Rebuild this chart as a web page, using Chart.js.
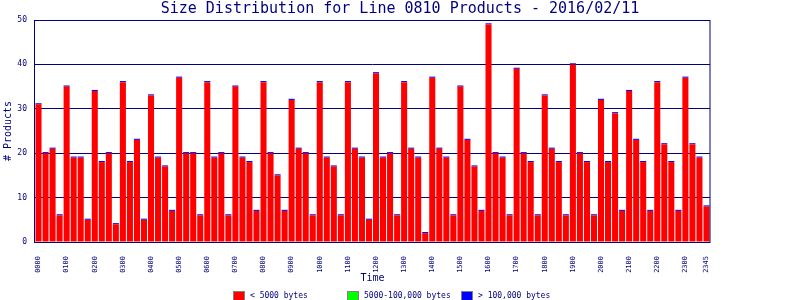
<!DOCTYPE html>
<html>
<head>
<meta charset="utf-8">
<script src="https://cdn.jsdelivr.net/npm/chart.js@4"></script>
<style>
  body { margin: 0; background: #fff; }
  #wrap { width: 800px; height: 300px; }
</style>
</head>
<body>
<div id="wrap"><canvas id="chart" width="800" height="300"></canvas></div>
<script>
// 15 minute slots, 0000 .. 2345
const times = [
  "0000","0015","0030","0045","0100","0115","0130","0145","0200","0215","0230","0245",
  "0300","0315","0330","0345","0400","0415","0430","0445","0500","0515","0530","0545",
  "0600","0615","0630","0645","0700","0715","0730","0745","0800","0815","0830","0845",
  "0900","0915","0930","0945","1000","1015","1030","1045","1100","1115","1130","1145",
  "1200","1215","1230","1245","1300","1315","1330","1345","1400","1415","1430","1445",
  "1500","1515","1530","1545","1600","1615","1630","1645","1700","1715","1730","1745",
  "1800","1815","1830","1845","1900","1915","1930","1945","2000","2015","2030","2045",
  "2100","2115","2130","2145","2200","2215","2230","2245","2300","2315","2330","2345"
];
const tickLabels = ["0000","0100","0200","0300","0400","0500","0600","0700","0800","0900",
  "1000","1100","1200","1300","1400","1500","1600","1700","1800","1900","2000","2100",
  "2200","2300","2345"];

const small = [
  31,20,21,6, 35,19,19,5, 34,18,20,4, 36,18,23,5, 33,19,17,7, 37,20,20,6,
  36,19,20,6, 35,19,18,7, 36,20,15,7, 32,21,20,6, 36,19,17,6, 36,21,19,5,
  38,19,20,6, 36,21,19,2, 37,21,19,6, 35,23,17,7, 49,20,19,6, 39,20,18,6,
  33,21,18,6, 40,20,18,6, 32,18,29,7, 34,23,18,7, 36,22,18,7, 37,22,19,8
];
const medium = [
  0,0,0,0, 0,0,0,0, 0,0,0,0, 0,0,0,0, 0,0,0,0, 0,0,0,0,
  0,0,0,0, 0,0,0,0, 0,0,0,0, 0,0,0,0, 0,0,0,0, 0,0,0,0,
  0,0,0,0, 0,0,0,0, 0,0,0,0, 0,0,0,0, 0,0,0,0, 0,0,0,0,
  0,0,0,0, 0,0,0,0, 0,0,0,0, 0,0,0,0, 0,0,0,0, 0,0,0,0
];
const large = [
  .25,.25,.25,.25, .25,.25,.25,.25, .25,.25,.25,.25, .25,.25,.25,.25, .25,.25,.25,.25, .25,.25,.25,.25,
  .25,.25,.25,.25, .25,.25,.25,.25, .25,.25,.25,.25, .25,.25,.25,.25, .25,.25,.25,.25, .25,.25,.25,.25,
  .25,.25,.25,.25, .25,.25,.25,.25, .25,.25,.25,.25, .25,.25,.25,.25, .25,.25,.25,.25, .25,.25,.25,.25,
  .25,.25,.25,.25, .25,.25,.25,.25, .25,.25,.25,.25, .25,.25,.25,.25, .25,.25,.25,.25, .25,.25,.25,.25
];

const navy = "#000080";
const mono = "'DejaVu Sans Mono', monospace";

// fixed-slot legend under the chart, like the original image
const bottomLegend = {
  id: "bottomLegend",
  afterDraw(chart) {
    const ctx = chart.ctx;
    const slots = [233, 347, 461];
    ctx.save();
    ctx.font = "8px " + mono;
    ctx.textBaseline = "middle";
    chart.data.datasets.forEach((ds, i) => {
      const x = slots[i];
      ctx.fillStyle = ds.backgroundColor;
      ctx.fillRect(x, 291, 12, 9);
      ctx.strokeStyle = "#808080";
      ctx.lineWidth = 1;
      ctx.strokeRect(x + 0.5, 291.5, 11, 9);
      ctx.fillStyle = navy;
      ctx.fillText(ds.label, x + 17, 295.5);
    });
    ctx.restore();
  }
};

const frame = {
  id: "frame",
  afterDraw(chart) {
    const a = chart.chartArea;
    const ctx = chart.ctx;
    ctx.save();
    ctx.strokeStyle = navy;
    ctx.lineWidth = 1;
    ctx.strokeRect(Math.round(a.left) - 0.5, Math.round(a.top) + 0.5,
      Math.round(a.right - a.left) + 0.5, Math.round(a.bottom - a.top));
    ctx.restore();
  }
};

new Chart(document.getElementById("chart"), {
  type: "bar",
  data: {
    labels: times,
    datasets: [
      { label: "< 5000 bytes", data: small, backgroundColor: "#ff0000" },
      { label: "5000-100,000 bytes", data: medium, backgroundColor: "#00ff00" },
      { label: "> 100,000 bytes", data: large, backgroundColor: "#0000ff" }
    ]
  },
  options: {
    responsive: false,
    animation: false,
    layout: { padding: 0 },
    datasets: { bar: { categoryPercentage: 1, barPercentage: 0.86, borderWidth: 0 } },
    plugins: {
      legend: { display: false },
      tooltip: { enabled: false },
      title: {
        display: true,
        text: "Size Distribution for Line 0810 Products - 2016/02/11",
        color: navy,
        font: { family: mono, size: 15, weight: "normal" },
        padding: { top: 0, bottom: 2 }
      }
    },
    scales: {
      x: {
        stacked: true,
        grid: { display: false },
        border: { display: false },
        ticks: {
          autoSkip: false,
          minRotation: 90,
          maxRotation: 90,
          padding: 6,
          color: navy,
          font: { family: mono, size: 7 },
          callback: function (v) {
            const t = times[v];
            return tickLabels.includes(t) ? t : "";
          }
        },
        title: {
          display: true,
          text: "Time",
          color: navy,
          font: { family: mono, size: 10 },
          padding: { top: 0, bottom: 16 }
        },
        afterFit(scale) { scale.height = 58; }
      },
      y: {
        stacked: true,
        min: 0,
        max: 50,
        grid: { color: navy, drawTicks: false },
        border: { display: false },
        ticks: {
          stepSize: 10,
          padding: 8,
          color: navy,
          font: { family: mono, size: 8 }
        },
        title: {
          display: true,
          text: "# Products",
          color: navy,
          font: { family: mono, size: 10 },
          padding: { top: 2, bottom: 0 }
        },
        afterFit(scale) { scale.width = 35; }
      },
      // empty right-hand margin so the title stays centred on the page
      yRight: {
        position: "right",
        min: 0,
        max: 50,
        grid: { display: false },
        border: { display: false },
        ticks: { display: false },
        afterFit(scale) { scale.width = 90; }
      }
    }
  },
  plugins: [bottomLegend, frame]
});
</script>
</body>
</html>
